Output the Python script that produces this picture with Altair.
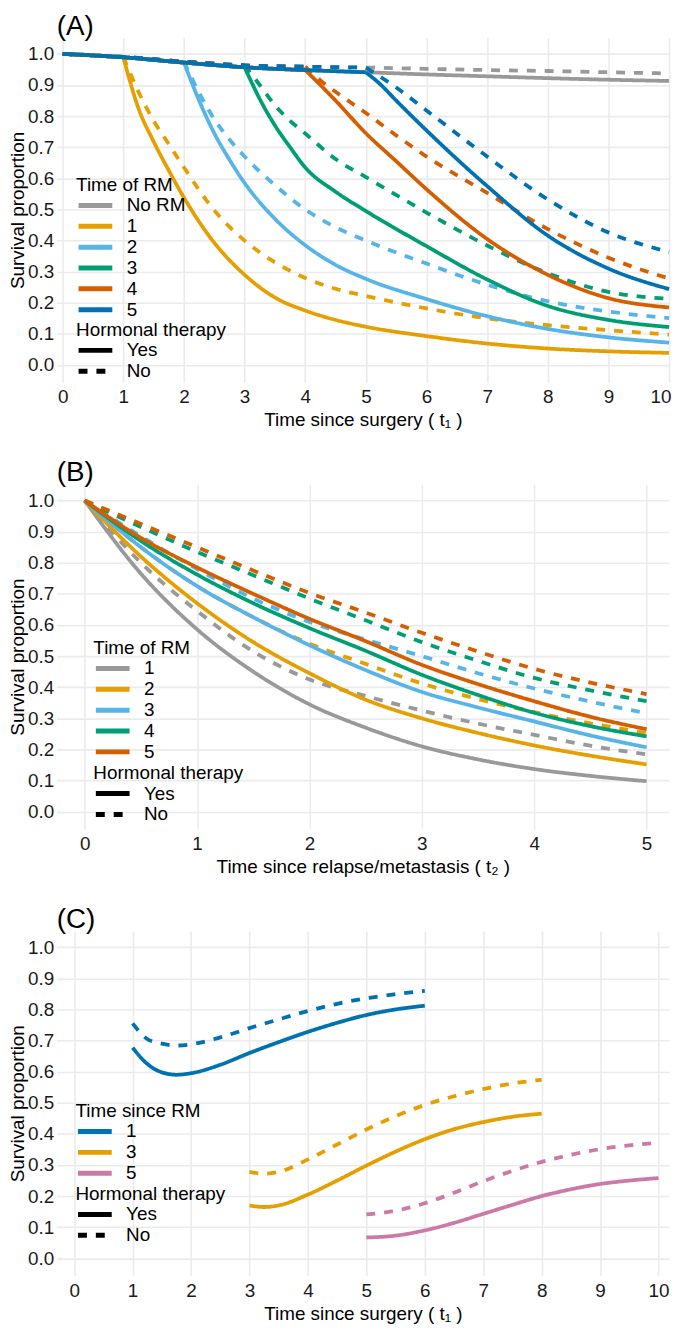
import altair as alt
import pandas as pd

FONT = "Liberation Sans"

# ---------------- Panel A : Time since surgery ----------------
A_base_t = [0, 1, 2, 3, 4, 5, 6, 7, 8, 9, 10]
A_base_yes = [1.0, 0.989, 0.972, 0.957, 0.948, 0.941, 0.934, 0.928, 0.922, 0.917, 0.913]
A_base_no = [1.0, 0.990, 0.975, 0.963, 0.959, 0.956, 0.952, 0.948, 0.945, 0.941, 0.937]

A_rm1_t = [1, 1.25, 1.5, 1.75, 2, 2.5, 3, 3.5, 4, 4.5, 5, 6, 7, 8, 9, 10]
A_rm1_yes = [0.989, 0.825, 0.718, 0.625, 0.538, 0.393, 0.29, 0.217, 0.175, 0.145, 0.123, 0.093, 0.069, 0.053, 0.044, 0.039]
A_rm1_no = [0.990, 0.878, 0.785, 0.71, 0.635, 0.497, 0.40, 0.33, 0.28, 0.245, 0.222, 0.182, 0.15, 0.128, 0.112, 0.098]

A_rm2_t = [2, 2.25, 2.5, 2.75, 3, 3.5, 4, 4.5, 5, 6, 7, 8, 9, 10]
A_rm2_yes = [0.972, 0.85, 0.745, 0.66, 0.585, 0.47, 0.385, 0.322, 0.277, 0.212, 0.157, 0.116, 0.089, 0.072]
A_rm2_no = [0.975, 0.875, 0.79, 0.725, 0.67, 0.578, 0.50, 0.443, 0.40, 0.326, 0.258, 0.205, 0.172, 0.151]

A_rm3_t = [3, 3.25, 3.5, 3.75, 4, 4.5, 5, 6, 7, 8, 9, 10]
A_rm3_yes = [0.957, 0.855, 0.77, 0.70, 0.635, 0.557, 0.495, 0.382, 0.275, 0.19, 0.145, 0.122]
A_rm3_no = [0.963, 0.90, 0.835, 0.785, 0.744, 0.662, 0.604, 0.49, 0.384, 0.295, 0.235, 0.213]

A_rm4_t = [4, 4.25, 4.5, 5, 5.5, 6, 7, 8, 9, 10]
A_rm4_yes = [0.948, 0.90, 0.85, 0.745, 0.655, 0.565, 0.405, 0.29, 0.215, 0.185]
A_rm4_no = [0.959, 0.915, 0.878, 0.81, 0.738, 0.67, 0.553, 0.437, 0.345, 0.278]

A_rm5_t = [5, 5.25, 5.5, 6, 7, 8, 9, 10]
A_rm5_yes = [0.941, 0.90, 0.85, 0.754, 0.575, 0.416, 0.31, 0.244]
A_rm5_no = [0.956, 0.925, 0.892, 0.818, 0.67, 0.532, 0.426, 0.363]

A_groups = ["No RM", "1", "2", "3", "4", "5"]
A_colors = ["#999999", "#E69F00", "#56B4E9", "#009E73", "#D55E00", "#0072B2"]

# ---------------- Panel B : Time since relapse/metastasis ----------------
B_t = [0, 0.5, 1, 1.5, 2, 2.5, 3, 3.5, 4, 4.5, 5]
B_rm1_yes = [1, 0.765, 0.586, 0.45, 0.345, 0.27, 0.21, 0.168, 0.137, 0.115, 0.098]
B_rm1_no = [1, 0.80, 0.645, 0.515, 0.425, 0.372, 0.325, 0.283, 0.247, 0.212, 0.184]
B_rm2_yes = [1, 0.82, 0.67, 0.545, 0.445, 0.36, 0.30, 0.253, 0.213, 0.18, 0.152]
B_rm2_no = [1, 0.85, 0.725, 0.625, 0.54, 0.475, 0.412, 0.362, 0.32, 0.284, 0.253]
B_rm3_yes = [1, 0.85, 0.725, 0.625, 0.535, 0.455, 0.385, 0.335, 0.29, 0.245, 0.207]
B_rm3_no = [1, 0.885, 0.78, 0.685, 0.61, 0.553, 0.50, 0.445, 0.396, 0.354, 0.316]
B_rm4_yes = [1, 0.87, 0.762, 0.67, 0.59, 0.517, 0.44, 0.375, 0.318, 0.275, 0.242]
B_rm4_no = [1, 0.915, 0.835, 0.76, 0.685, 0.615, 0.545, 0.485, 0.43, 0.39, 0.355]
B_rm5_yes = [1, 0.88, 0.785, 0.70, 0.62, 0.548, 0.472, 0.41, 0.355, 0.305, 0.265]
B_rm5_no = [1, 0.925, 0.85, 0.775, 0.703, 0.64, 0.575, 0.515, 0.459, 0.415, 0.378]

B_groups = ["1", "2", "3", "4", "5"]
B_colors = ["#999999", "#E69F00", "#56B4E9", "#009E73", "#D55E00"]

# ---------------- Panel C : conditional survival ----------------
C_s1_t = [1, 1.25, 1.5, 1.75, 2, 2.5, 3, 3.5, 4, 4.5, 5, 5.5, 6]
C_s1_yes = [0.677, 0.625, 0.598, 0.59, 0.595, 0.622, 0.66, 0.695, 0.728, 0.757, 0.782, 0.80, 0.812]
C_s1_no = [0.755, 0.705, 0.69, 0.684, 0.688, 0.71, 0.74, 0.768, 0.795, 0.818, 0.836, 0.849, 0.86]

C_s3_t = [3, 3.25, 3.5, 4, 4.5, 5, 5.5, 6, 6.5, 7, 7.5, 8]
C_s3_yes = [0.17, 0.165, 0.17, 0.205, 0.25, 0.298, 0.343, 0.383, 0.415, 0.438, 0.455, 0.465]
C_s3_no = [0.278, 0.272, 0.278, 0.318, 0.366, 0.414, 0.457, 0.493, 0.521, 0.544, 0.562, 0.574]

C_s5_t = [5, 5.5, 6, 6.5, 7, 7.5, 8, 8.5, 9, 9.5, 10]
C_s5_yes = [0.067, 0.073, 0.09, 0.114, 0.143, 0.172, 0.20, 0.222, 0.239, 0.25, 0.258]
C_s5_no = [0.141, 0.153, 0.177, 0.211, 0.248, 0.281, 0.31, 0.333, 0.351, 0.363, 0.371]

C_groups = ["1", "3", "5"]
C_colors = ["#0072B2", "#E69F00", "#CC79A7"]

Y_TICKS = [0.0, 0.1, 0.2, 0.3, 0.4, 0.5, 0.6, 0.7, 0.8, 0.9, 1.0]
HT_DOMAIN = ["Yes", "No"]
DASHES = [[1, 0], [9, 9]]


def rows(grp, ht, seg, ts, vs):
    return [{"grp": grp, "ht": ht, "seg": seg, "t": t, "s": v} for t, v in zip(ts, vs)]


recA = []
recA += rows("No RM", "Yes", "nr_y", A_base_t, A_base_yes)
recA += rows("No RM", "No", "nr_n", A_base_t, A_base_no)
for k, (ts, ys, ns) in enumerate([
    (A_rm1_t, A_rm1_yes, A_rm1_no),
    (A_rm2_t, A_rm2_yes, A_rm2_no),
    (A_rm3_t, A_rm3_yes, A_rm3_no),
    (A_rm4_t, A_rm4_yes, A_rm4_no),
    (A_rm5_t, A_rm5_yes, A_rm5_no),
], start=1):
    g = str(k)
    recA += rows(g, "Yes", f"{g}_pre_y", A_base_t[:k + 1], A_base_yes[:k + 1])
    recA += rows(g, "Yes", f"{g}_post_y", ts, ys)
    recA += rows(g, "No", f"{g}_pre_n", A_base_t[:k + 1], A_base_no[:k + 1])
    recA += rows(g, "No", f"{g}_post_n", ts, ns)
dfA = pd.DataFrame(recA)

recB = []
for g, ys, ns in zip(B_groups, [B_rm1_yes, B_rm2_yes, B_rm3_yes, B_rm4_yes, B_rm5_yes],
                     [B_rm1_no, B_rm2_no, B_rm3_no, B_rm4_no, B_rm5_no]):
    recB += rows(g, "Yes", f"{g}_y", B_t, ys)
    recB += rows(g, "No", f"{g}_n", B_t, ns)
dfB = pd.DataFrame(recB)

recC = []
for g, ts, ys, ns in zip(C_groups, [C_s1_t, C_s3_t, C_s5_t], [C_s1_yes, C_s3_yes, C_s5_yes],
                         [C_s1_no, C_s3_no, C_s5_no]):
    recC += rows(g, "Yes", f"{g}_y", ts, ys)
    recC += rows(g, "No", f"{g}_n", ts, ns)
dfC = pd.DataFrame(recC)

SYM = "M-1,0L3.25,0"
PW, PH = 617, 347


def panel(df, label, xtitle, xdomain, xticks, ctitle, cdomain, crange, cpos, dpos, flush=False):
    leg_common = dict(
        orient="none", titleFontSize=19, labelFontSize=19, titleFont=FONT, labelFont=FONT,
        titleFontWeight="normal", titleColor="black", labelColor="black",
        symbolType=SYM, symbolSize=256, symbolStrokeWidth=5, labelOffset=30,
        rowPadding=0, titlePadding=0, padding=0, symbolOpacity=1,
    )
    xaxis = dict(values=xticks, format="d", title=xtitle)
    if flush:
        xaxis.update(labelFlush=True, labelFlushOffset=2)
    return alt.Chart(df).mark_line(interpolate="monotone", strokeWidth=3.8, strokeCap="butt").encode(
        x=alt.X("t:Q", scale=alt.Scale(domain=xdomain, nice=False, zero=False), axis=alt.Axis(**xaxis)),
        y=alt.Y("s:Q", scale=alt.Scale(domain=[-0.055, 1.052], nice=False, zero=False),
                axis=alt.Axis(values=Y_TICKS, format=".1f", title="Survival proportion")),
        color=alt.Color("grp:N", sort=cdomain, scale=alt.Scale(domain=cdomain, range=crange),
                        legend=alt.Legend(title=ctitle, legendX=cpos[0], legendY=cpos[1],
                                          symbolDash=[1, 0], **leg_common)),
        strokeDash=alt.StrokeDash("ht:N", sort=HT_DOMAIN, scale=alt.Scale(domain=HT_DOMAIN, range=DASHES),
                                  legend=alt.Legend(title="Hormonal therapy", legendX=dpos[0], legendY=dpos[1],
                                                    symbolStrokeColor="black", **leg_common)),
        detail="seg:N",
    ).properties(
        width=PW, height=PH,
        title=alt.TitleParams(label, anchor="start", frame="group", fontSize=28, fontWeight="normal",
                              font=FONT, color="black", offset=0, dy=3),
    )


pA = panel(dfA, "(A)", "Time since surgery ( t₁ )", [-0.1, 10.0], list(range(0, 11)),
           "Time of RM", A_groups, A_colors, (19.6, 139.5), (19.6, 285.5), flush=True)
pB = panel(dfB, "(B)", "Time since relapse/metastasis ( t₂ )", [-0.25, 5.2], list(range(0, 6)),
           "Time of RM", B_groups, B_colors, (37, 156), (37, 282))
pC = panel(dfC, "(C)", "Time since surgery ( t₁ )", [-0.3, 10.18], list(range(0, 11)),
           "Time since RM", C_groups, C_colors, (19, 172.5), (19, 256))

chart = alt.vconcat(pA, pB, pC, spacing=30).resolve_scale(
    color="independent", strokeDash="independent", x="independent", y="independent"
).resolve_legend(color="independent", strokeDash="independent").properties(
    padding={"left": 0, "top": 0, "right": 0, "bottom": 0}, background="white"
).configure_view(stroke=None).configure_axis(
    domain=False, ticks=False, grid=True, gridColor="#EBEBEB", gridWidth=1.6,
    labelFont=FONT, titleFont=FONT, labelFontSize=19, titleFontSize=19,
    labelColor="#1a1a1a", titleColor="black", titleFontWeight="normal",
).configure_axisX(labelPadding=6, titlePadding=4).configure_axisY(labelPadding=3, titlePadding=0)

chart.save("out.html", embed_options={"renderer": "svg", "actions": False})
